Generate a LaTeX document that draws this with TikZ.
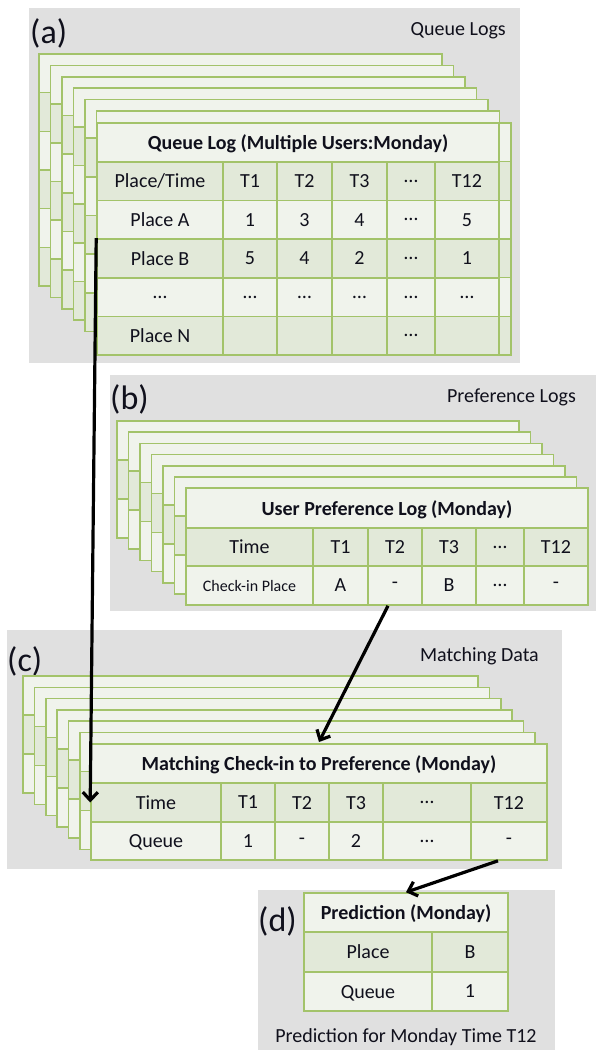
\documentclass[tikz,border=0pt]{standalone}
\usepackage{fontspec}
\setmainfont{Carlito}
\usetikzlibrary{arrows.meta}
\definecolor{panel}{HTML}{E0E0E0}
\definecolor{grn}{HTML}{A3C36A}
\definecolor{lite}{HTML}{F0F3EC}
\definecolor{dark}{HTML}{E2E9D9}
\definecolor{ink}{HTML}{10101C}
\newcommand\cellfont{\fontsize{20}{23}\selectfont}
\newcommand\smallcellfont{\fontsize{16}{18}\selectfont}
\newcommand\bigfont{\fontsize{34}{38}\selectfont}
\newcommand\cellnode[7]{\node[cellst,fill=#6,minimum width={(#4-#2)*1pt},minimum height={(#5-#3)*1pt}] (#1) at ({(#2+#4)/2},{(#3+#5)/2}) {#7};}
\newcommand\backsheet[7]{%
 \fill[lite] (#1,#2) rectangle ++(#3,#4);
 \foreach \r in {#6} \fill[dark] (#1,{#2+\r*#5}) rectangle ++(#3,#5);
 \foreach \r in {#7} \draw[grnline] (#1,{#2+\r*#5}) -- ++(#3,0);
 \draw[grnline] (#1,#2) rectangle ++(#3,#4);
}
\tikzset{
 cellst/.style={draw=grn, line width=1.6pt, inner sep=0pt, text=ink, font=\cellfont, text depth=0pt},
 grnline/.style={draw=grn, line width=1.6pt},
 panelbox/.style={fill=panel, draw=none},
 plabel/.style={text=ink, font=\bigfont, inner sep=0pt, anchor=west},
 ptitle/.style={text=ink, font=\cellfont, inner sep=0pt, anchor=east},
 arr/.style={line width=3.2pt, draw=black, -{Straight Barb[length=8pt,width=15pt]}}
}
\begin{document}
\begin{tikzpicture}[x=1pt,y=-1pt]
\useasboundingbox (0,0) rectangle (596,1050);
% panels
\fill[panelbox] (29,8) rectangle (520,363);
\fill[panelbox] (110,375) rectangle (596,611);
\fill[panelbox] (7,630) rectangle (562,869);
\fill[panelbox] (258,890) rectangle (555,1050);
\node[plabel] (la) at (30,33) {(a)};
\node[ptitle] (ta) at (506,31) {Queue Logs};
\node[plabel] (lb) at (110,399) {(b)};
\node[ptitle] (tb) at (576,397) {Preference Logs};
\node[plabel] (lc) at (7,661) {(c)};
\node[ptitle] (tc) at (539,656) {Matching Data};
\node[plabel] (ld) at (258,921) {(d)};
\node[text=ink, font=\cellfont, inner sep=0pt] (td) at (406,1037) {Prediction for Monday Time T12};

% ---------- (a) ----------
\foreach \k in {0,...,5}{
 \backsheet{39+11.5*\k}{54+11.4*\k}{403}{232}{38.67}{1,3,5}{1,...,5}
}
\backsheet{97}{123}{414}{232}{38.67}{1,3,5}{1,...,5}
\cellnode{aTitle}{97}{123}{499}{161.7}{lite}{\bfseries Queue Log (Multiple Users:Monday)}
\cellnode{aH0}{97}{161.7}{223}{200.3}{dark}{Place/Time}
\cellnode{aH1}{223}{161.7}{277}{200.3}{dark}{T1}
\cellnode{aH2}{277}{161.7}{332}{200.3}{dark}{T2}
\cellnode{aH3}{332}{161.7}{387}{200.3}{dark}{T3}
\cellnode{aH4}{387}{161.7}{435}{200.3}{dark}{…}
\cellnode{aH5}{435}{161.7}{499}{200.3}{dark}{T12}
\cellnode{aA0}{97}{200.3}{223}{239}{lite}{Place A}
\cellnode{aA1}{223}{200.3}{277}{239}{lite}{1}
\cellnode{aA2}{277}{200.3}{332}{239}{lite}{3}
\cellnode{aA3}{332}{200.3}{387}{239}{lite}{4}
\cellnode{aA4}{387}{200.3}{435}{239}{lite}{…}
\cellnode{aA5}{435}{200.3}{499}{239}{lite}{5}
\cellnode{aB0}{97}{239}{223}{277.7}{dark}{Place B}
\cellnode{aB1}{223}{239}{277}{277.7}{dark}{5}
\cellnode{aB2}{277}{239}{332}{277.7}{dark}{4}
\cellnode{aB3}{332}{239}{387}{277.7}{dark}{2}
\cellnode{aB4}{387}{239}{435}{277.7}{dark}{…}
\cellnode{aB5}{435}{239}{499}{277.7}{dark}{1}
\cellnode{aD0}{97}{277.7}{223}{316.3}{lite}{…}
\cellnode{aD1}{223}{277.7}{277}{316.3}{lite}{…}
\cellnode{aD2}{277}{277.7}{332}{316.3}{lite}{…}
\cellnode{aD3}{332}{277.7}{387}{316.3}{lite}{…}
\cellnode{aD4}{387}{277.7}{435}{316.3}{lite}{…}
\cellnode{aD5}{435}{277.7}{499}{316.3}{lite}{…}
\cellnode{aN0}{97}{316.3}{223}{355}{dark}{Place N}
\cellnode{aN1}{223}{316.3}{277}{355}{dark}{}
\cellnode{aN2}{277}{316.3}{332}{355}{dark}{}
\cellnode{aN3}{332}{316.3}{387}{355}{dark}{}
\cellnode{aN4}{387}{316.3}{435}{355}{dark}{…}
\cellnode{aN5}{435}{316.3}{499}{355}{dark}{}

% ---------- (b) ----------
\foreach \k in {0,...,5}{
 \backsheet{117+11.5*\k}{421+11.2*\k}{402}{117}{39}{1}{1,2}
}
\cellnode{bTitle}{186}{488}{588}{528}{lite}{\bfseries User Preference Log (Monday)}
\cellnode{bH0}{186}{528}{313}{566}{dark}{Time}
\cellnode{bH1}{313}{528}{368}{566}{dark}{T1}
\cellnode{bH2}{368}{528}{422}{566}{dark}{T2}
\cellnode{bH3}{422}{528}{476}{566}{dark}{T3}
\cellnode{bH4}{476}{528}{524}{566}{dark}{…}
\cellnode{bH5}{524}{528}{588}{566}{dark}{T12}
\cellnode{bR0}{186}{566}{313}{605}{lite}{\smallcellfont Check-in Place}
\cellnode{bR1}{313}{566}{368}{605}{lite}{A}
\cellnode{bR2}{368}{566}{422}{605}{lite}{-}
\cellnode{bR3}{422}{566}{476}{605}{lite}{B}
\cellnode{bR4}{476}{566}{524}{605}{lite}{…}
\cellnode{bR5}{524}{566}{588}{605}{lite}{-}

% ---------- (c) ----------
\foreach \k in {0,...,5}{
 \backsheet{23+11.4*\k}{676+11.3*\k}{455}{117}{39}{1}{1,2}
}
\cellnode{cTitle}{91}{744}{547}{783}{lite}{\bfseries Matching Check-in to Preference (Monday)}
\cellnode{cH0}{91}{783}{221}{822}{dark}{Time}
\cellnode{cH1}{221}{783}{275}{822}{dark}{T1}
\cellnode{cH2}{275}{783}{329}{822}{dark}{T2}
\cellnode{cH3}{329}{783}{383}{822}{dark}{T3}
\cellnode{cH4}{383}{783}{471}{822}{dark}{…}
\cellnode{cH5}{471}{783}{547}{822}{dark}{T12}
\cellnode{cR0}{91}{822}{221}{860}{lite}{Queue}
\cellnode{cR1}{221}{822}{275}{860}{lite}{1}
\cellnode{cR2}{275}{822}{329}{860}{lite}{-}
\cellnode{cR3}{329}{822}{383}{860}{lite}{2}
\cellnode{cR4}{383}{822}{471}{860}{lite}{…}
\cellnode{cR5}{471}{822}{547}{860}{lite}{-}

% ---------- (d) ----------
\cellnode{dTitle}{304}{893}{508}{932}{lite}{\bfseries Prediction (Monday)}
\cellnode{dP0}{304}{932}{432}{972}{dark}{Place}
\cellnode{dP1}{432}{932}{508}{972}{dark}{B}
\cellnode{dQ0}{304}{972}{432}{1011}{lite}{Queue}
\cellnode{dQ1}{432}{972}{508}{1011}{lite}{1}

% ---------- arrows ----------
\coordinate (cin) at (319,742);
\draw[arr] (aB0.north west) -- (cH0.west);
\draw[arr] ([xshift=-7pt]bR2.south) -- (cin);
\draw[arr] ([xshift=-11pt]cR5.south) -- (dTitle.north);
\end{tikzpicture}
\end{document}
